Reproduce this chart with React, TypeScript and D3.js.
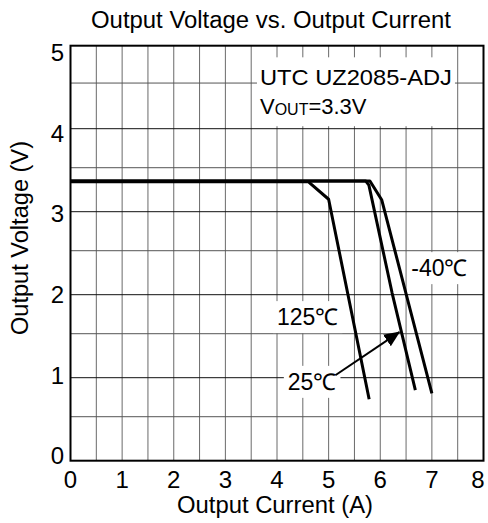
import React, { useRef, useEffect } from "react";
import * as d3 from "d3";

// axis ticks
const xTicks = [0, 1, 2, 3, 4, 5, 6, 7, 8];
const yTicks = [0, 1, 2, 3, 4, 5];
const xGrid = [0.5, 1, 1.5, 2, 2.5, 3, 3.5, 4, 4.5, 5, 5.5, 6, 6.5, 7, 7.5];
const yMajorGrid = [1, 2, 3, 4];
const yMinorGrid = [0.53, 1.53, 2.53, 3.53, 4.55];

// curves: output current (A) / output voltage (V)
const current125 = [0, 4.61, 5.0, 5.785];
const volt125 = [3.36, 3.36, 3.15, 0.74];
const current25 = [0, 5.72, 5.78, 6.23, 6.68];
const volt25 = [3.37, 3.37, 3.32, 2.02, 0.85];
const currentM40 = [0, 5.8, 6.03, 7.0];
const voltM40 = [3.37, 3.37, 3.14, 0.81];

// curve labels (position in data units)
const curveLabels = ["125℃", "25℃", "-40℃"];
const labelX = [4.0, 4.21, 6.6];
const labelY = [1.73, 0.95, 2.32];
// arrow from 25℃ label to its curve
const arrowFrom = [5.13, 1.03];
const arrowTo = [6.37, 1.55];

const FONT = "'Liberation Sans', Arial, Helvetica, sans-serif";

const App = () => {
  const svgRef = useRef(null);

  useEffect(() => {
    if (!svgRef.current) return;
    const width = 488;
    const height = 523;
    const margin = { top: 45.7, right: 4.5, bottom: 62.3, left: 70.5 };

    const svg = d3.select(svgRef.current).attr("width", width).attr("height", height);
    svg.selectAll("*").remove();

    const x = d3.scaleLinear().domain([0, 8]).range([margin.left, width - margin.right]);
    const y = d3.scaleLinear().domain([0, 5]).range([height - margin.bottom, margin.top]);
    // tick labels sit a bit inside the outer gridlines in the original
    const yLab = d3.scaleLinear().domain([0, 5]).range([y(0) - 5, y(5) + 7]);

    svg.append("rect").attr("width", width).attr("height", height).attr("fill", "#fff");

    // title
    svg.append("text")
      .attr("x", 271).attr("y", 28)
      .attr("text-anchor", "middle")
      .attr("font-family", FONT).attr("font-size", 23)
      .attr("textLength", 360).attr("lengthAdjust", "spacingAndGlyphs")
      .text("Output Voltage vs. Output Current");

    // grid
    svg.append("g").selectAll("line").data(xGrid).enter().append("line")
      .attr("x1", (d) => x(d)).attr("x2", (d) => x(d))
      .attr("y1", y(0)).attr("y2", y(5))
      .attr("stroke", "#6a6a6a").attr("stroke-width", 1);
    svg.append("g").selectAll("line").data(yMinorGrid).enter().append("line")
      .attr("x1", x(0)).attr("x2", x(8))
      .attr("y1", (d) => y(d)).attr("y2", (d) => y(d))
      .attr("stroke", "#555").attr("stroke-width", 1);
    svg.append("g").selectAll("line").data(yMajorGrid).enter().append("line")
      .attr("x1", x(0)).attr("x2", x(8))
      .attr("y1", (d) => y(d)).attr("y2", (d) => y(d))
      .attr("stroke", "#111").attr("stroke-width", 1);

    // curves
    const line = d3.line<number[]>().x((d) => x(d[0])).y((d) => y(d[1]));
    const series = [
      d3.zip(current125, volt125),
      d3.zip(current25, volt25),
      d3.zip(currentM40, voltM40),
    ];
    svg.append("g").selectAll("path").data(series).enter().append("path")
      .attr("d", (d) => line(d))
      .attr("fill", "none").attr("stroke", "#000")
      .attr("stroke-width", 3).attr("stroke-linejoin", "round");

    // plot frame
    svg.append("rect")
      .attr("x", x(0)).attr("y", y(5))
      .attr("width", x(8) - x(0)).attr("height", y(0) - y(5))
      .attr("fill", "none").attr("stroke", "#000").attr("stroke-width", 2);

    // annotation box: part name
    const info = svg.append("g");
    const infoBg = info.append("rect").attr("fill", "#fff");
    const t1 = info.append("text")
      .attr("x", x(3.67)).attr("y", y(4.53))
      .attr("font-family", FONT).attr("font-size", 22)
      .attr("textLength", 192).attr("lengthAdjust", "spacingAndGlyphs")
      .text("UTC UZ2085-ADJ");
    const t2 = info.append("text")
      .attr("x", x(3.67)).attr("y", y(4.18))
      .attr("font-family", FONT).attr("font-size", 22);
    t2.append("tspan").text("V");
    t2.append("tspan").attr("font-size", 16).attr("dy", 1).text("OUT");
    t2.append("tspan").attr("dy", -1).text("=3.3V");
    const b1 = (t1.node() as SVGTextElement).getBBox();
    infoBg
      .attr("x", b1.x - 3).attr("y", y(4.86))
      .attr("width", b1.width + 6).attr("height", y(4.03) - y(4.86));

    // curve labels with white backing
    curveLabels.forEach((lab, i) => {
      const g = svg.append("g");
      const bg = g.append("rect").attr("fill", "#fff");
      const t = g.append("text")
        .attr("x", x(labelX[i])).attr("y", y(labelY[i]))
        .attr("dominant-baseline", "central")
        .attr("font-family", FONT).attr("font-size", 23)
        .text(lab);
      const b = (t.node() as SVGTextElement).getBBox();
      bg.attr("x", b.x - 4).attr("y", b.y - 3)
        .attr("width", b.width + 8).attr("height", b.height + 6);
    });

    // arrow
    const defs = svg.append("defs");
    defs.append("marker")
      .attr("id", "arrowhead")
      .attr("markerUnits", "userSpaceOnUse")
      .attr("markerWidth", 16).attr("markerHeight", 14)
      .attr("refX", 15).attr("refY", 7)
      .attr("orient", "auto")
      .append("path").attr("d", "M0,0 L16,7 L0,14 Z").attr("fill", "#000");
    svg.append("line")
      .attr("x1", x(arrowFrom[0])).attr("y1", y(arrowFrom[1]))
      .attr("x2", x(arrowTo[0])).attr("y2", y(arrowTo[1]))
      .attr("stroke", "#000").attr("stroke-width", 2)
      .attr("marker-end", "url(#arrowhead)");

    // tick labels
    svg.append("g").selectAll("text").data(xTicks).enter().append("text")
      .attr("x", (d) => Math.min(x(d), width - 10)).attr("y", 488)
      .attr("text-anchor", "middle")
      .attr("font-family", FONT).attr("font-size", 24)
      .text((d) => d);
    svg.append("g").selectAll("text").data(yTicks).enter().append("text")
      .attr("x", 64).attr("y", (d) => yLab(d))
      .attr("text-anchor", "end").attr("dominant-baseline", "central")
      .attr("font-family", FONT).attr("font-size", 24)
      .text((d) => d);

    // axis titles
    svg.append("text")
      .attr("x", 275).attr("y", 513)
      .attr("text-anchor", "middle")
      .attr("font-family", FONT).attr("font-size", 23)
      .attr("textLength", 196).attr("lengthAdjust", "spacingAndGlyphs")
      .text("Output Current (A)");
    svg.append("text")
      .attr("transform", "translate(28,238) rotate(-90)")
      .attr("text-anchor", "middle")
      .attr("font-family", FONT).attr("font-size", 23)
      .attr("textLength", 194).attr("lengthAdjust", "spacingAndGlyphs")
      .text("Output Voltage (V)");
  }, []);

  return <svg ref={svgRef} style={{ position: "absolute", left: 0, top: 0 }} />;
};

export default App;
